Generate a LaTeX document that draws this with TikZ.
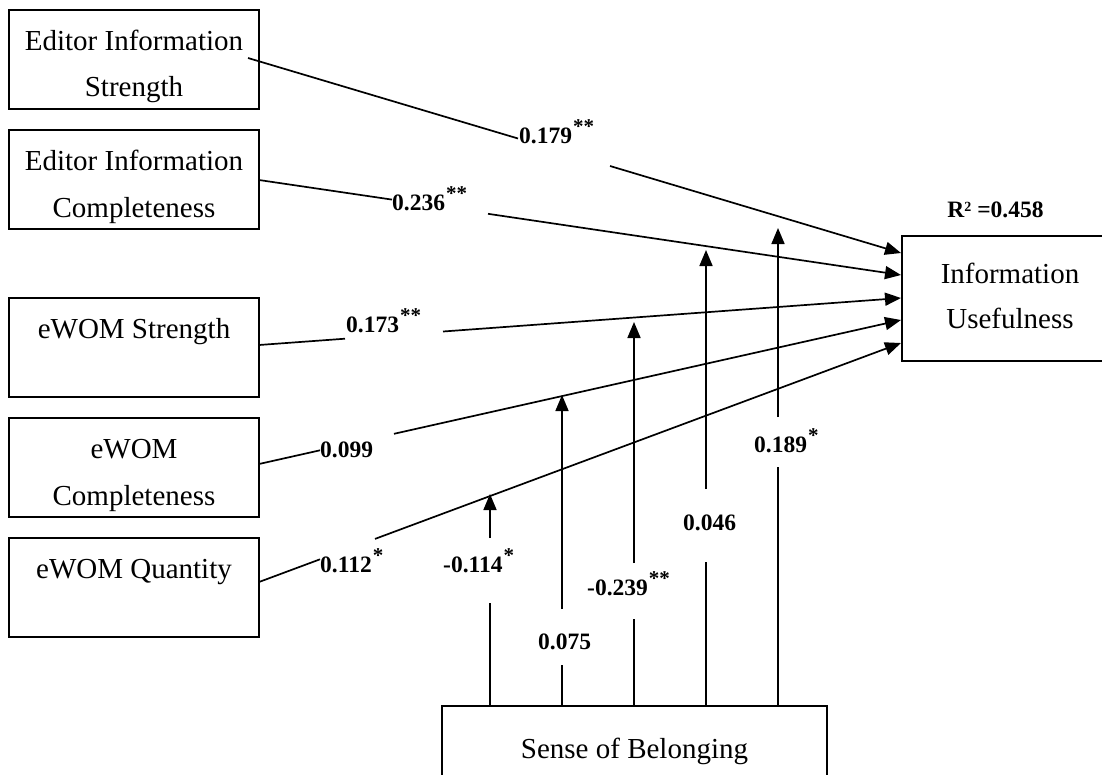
\documentclass[tikz,border=0pt]{standalone}
\usepackage{fontspec}
\setmainfont{Liberation Serif}
\usetikzlibrary{arrows.meta,calc}
\tikzset{
  box/.style={draw, line width=1.8pt, inner sep=0pt},
  lbox/.style={box, minimum width=250pt, minimum height=99pt},
  txt/.style={anchor=base, font=\fontsize{29}{34}\selectfont, inner sep=0pt},
  coef/.style={anchor=base west, font=\fontsize{23.5}{28}\selectfont\bfseries, inner sep=0pt},
  link/.style={line width=1.7pt},
  arr/.style={line width=1.7pt, -{Triangle[length=16pt,width=13pt]}},
}
\newcommand{\sigstar}[1]{\kern1pt\raisebox{10pt}{\fontsize{21}{21}\selectfont #1}}
\begin{document}
\begin{tikzpicture}[x=1pt,y=-1pt]
\useasboundingbox (0,0) rectangle (1102,774);
% boxes
\node[lbox] (b1) at (134,59.5) {};
\node[lbox] (b2) at (134,179.5) {};
\node[lbox] (b3) at (134,347.5) {};
\node[lbox] (b4) at (134,467.5) {};
\node[lbox] (b5) at (134,587.5) {};
\node[box, minimum width=216pt, minimum height=125pt] (iu) at (1010,298.5) {};
\node[box, minimum width=385pt, minimum height=96pt] (sb) at (634.5,754) {};
% box texts
\node[txt] (t1a) at (134,50) {Editor Information};
\node[txt] (t1b) at (134,96) {Strength};
\node[txt] (t2a) at (134,170) {Editor Information};
\node[txt] (t2b) at (134,217) {Completeness};
\node[txt] (t3) at (134,338) {eWOM Strength};
\node[txt] (t4a) at (134,458) {eWOM};
\node[txt] (t4b) at (134,505) {Completeness};
\node[txt] (t5) at (134,578) {eWOM Quantity};
\node[txt] (tia) at (1010,283) {Information};
\node[txt] (tib) at (1010,328) {Usefulness};
\node[txt] (ts) at (634.5,758) {Sense of Belonging};
\node[coef, anchor=base] (r2) at (995.5,217) {R\raisebox{6pt}{\fontsize{14}{14}\selectfont 2} =0.458};
% connector points
\coordinate (s1) at (248,58);   \coordinate (g1a) at (518,138.5); \coordinate (g1b) at (610,166);   \coordinate (e1) at (901,253);
\coordinate (s2) at (259,180);  \coordinate (g2a) at (392,199.6); \coordinate (g2b) at (488,213.8); \coordinate (e2) at (901,275);
\coordinate (s3) at (259,345);  \coordinate (g3a) at (345,338.7); \coordinate (g3b) at (443,331.5); \coordinate (e3) at (901,298);
\coordinate (s4) at (259,464);  \coordinate (g4a) at (320,450.3); \coordinate (g4b) at (394,433.8); \coordinate (e4) at (901,320);
\coordinate (s5) at (259,582);  \coordinate (g5a) at (320,559.3); \coordinate (g5b) at (375,538.9); \coordinate (e5) at (901,343);
% direct paths
\draw[link] (s1) -- (g1a); \draw[arr] (g1b) -- (e1);
\draw[link] (s2) -- (g2a); \draw[arr] (g2b) -- (e2);
\draw[link] (s3) -- (g3a); \draw[arr] (g3b) -- (e3);
\draw[link] (s4) -- (g4a); \draw[arr] (g4b) -- (e4);
\draw[link] (s5) -- (g5a); \draw[arr] (g5b) -- (e5);
% moderating paths
\coordinate (m1) at (490,706); \coordinate (m1a) at (490,603); \coordinate (m1b) at (490,538); \coordinate (m1t) at (490,494);
\coordinate (m2) at (562,706); \coordinate (m2a) at (562,665); \coordinate (m2b) at (562,609); \coordinate (m2t) at (562,395);
\coordinate (m3) at (634,706); \coordinate (m3a) at (634,619); \coordinate (m3b) at (634,563); \coordinate (m3t) at (634,322);
\coordinate (m4) at (706,706); \coordinate (m4a) at (706,562); \coordinate (m4b) at (706,489); \coordinate (m4t) at (706,250);
\coordinate (m5) at (778,706); \coordinate (m5a) at (778,467); \coordinate (m5b) at (778,417); \coordinate (m5t) at (778,228);
\draw[link] (m1) -- (m1a); \draw[arr] (m1b) -- (m1t);
\draw[link] (m2) -- (m2a); \draw[arr] (m2b) -- (m2t);
\draw[link] (m3) -- (m3a); \draw[arr] (m3b) -- (m3t);
\draw[link] (m4) -- (m4a); \draw[arr] (m4b) -- (m4t);
\draw[link] (m5) -- (m5a); \draw[arr] (m5b) -- (m5t);
% coefficients
\node[coef] (c1) at (519,143) {0.179\sigstar{**}};
\node[coef] (c2) at (392,210) {0.236\sigstar{**}};
\node[coef] (c3) at (346,332) {0.173\sigstar{**}};
\node[coef] (c4) at (320,457) {0.099};
\node[coef] (c5) at (320,572) {0.112\sigstar{*}};
\node[coef] (c6) at (443,572) {-0.114\sigstar{*}};
\node[coef] (c7) at (538,649) {0.075};
\node[coef] (c8) at (587,595) {-0.239\sigstar{**}};
\node[coef] (c9) at (683,530) {0.046};
\node[coef] (c10) at (754,452) {0.189\sigstar{*}};
\end{tikzpicture}
\end{document}
